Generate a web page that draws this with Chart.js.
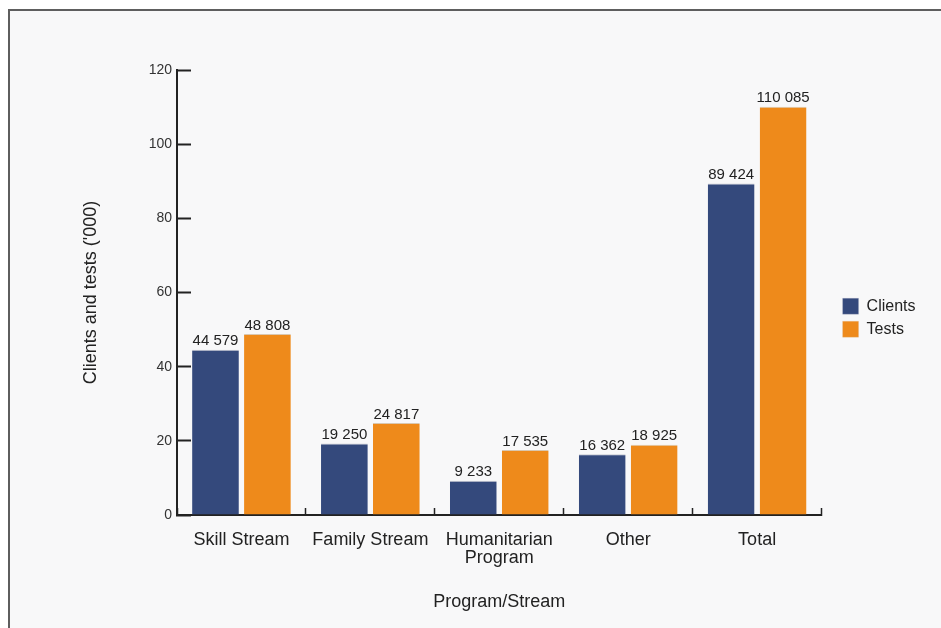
<!DOCTYPE html>
<html>
<head>
<meta charset="utf-8">
<script src="https://cdn.jsdelivr.net/npm/chart.js@4.4.1/dist/chart.umd.min.js"></script>
<style>
  html, body { margin: 0; padding: 0; background: #ffffff; }
  #wrap { position: relative; width: 941px; height: 628px; overflow: hidden; }
  #frame { position: absolute; left: 8px; top: 9px; width: 960px; height: 660px;
           border-left: 2px solid #5e5e5e; border-top: 2px solid #5e5e5e; background: #f8f8f9; }
  canvas { position: absolute; left: 0; top: 0; }
</style>
</head>
<body>
<div id="wrap">
  <div id="frame"></div>
  <canvas id="c" width="941" height="628"></canvas>
</div>
<script>
const categories = ['Skill Stream', 'Family Stream', ['Humanitarian', 'Program'], 'Other', 'Total'];
const clients = [44.579, 19.250, 9.233, 16.362, 89.424];
const tests = [48.808, 24.817, 17.535, 18.925, 110.085];
const yTicks = [0, 20, 40, 60, 80, 100, 120];

const FONT = "'Liberation Sans', Arial, Helvetica, sans-serif";

function fmt(v) {
  const n = Math.round(v * 1000);
  return String(n).replace(/\B(?=(\d{3})+(?!\d))/g, ' ');
}

const labelPlugin = {
  id: 'barLabels',
  afterDatasetsDraw(chart) {
    const ctx = chart.ctx;
    ctx.save();
    ctx.font = '15px ' + FONT;
    ctx.fillStyle = '#222';
    ctx.textAlign = 'center';
    ctx.textBaseline = 'bottom';
    chart.data.datasets.forEach((ds, di) => {
      const meta = chart.getDatasetMeta(di);
      meta.data.forEach((bar, i) => {
        ctx.fillText(fmt(ds.data[i]), bar.x, bar.y - 1);
      });
    });
    ctx.restore();
  }
};

new Chart(document.getElementById('c'), {
  type: 'bar',
  data: {
    labels: categories,
    datasets: [
      { label: 'Clients', data: clients, backgroundColor: '#34497c', borderColor: '#c5c8d2', borderWidth: { top: 1, left: 0, right: 0, bottom: 0 } },
      { label: 'Tests', data: tests, backgroundColor: '#ee8a1b', borderColor: '#d9c7b0', borderWidth: { top: 1, left: 0, right: 0, bottom: 0 } }
    ]
  },
  options: {
    responsive: false,
    animation: false,
    devicePixelRatio: 1,
    layout: { padding: { left: 80, right: 15.5, top: 70, bottom: 15 } },
    datasets: { bar: { categoryPercentage: 0.806, barPercentage: 0.9 } },
    plugins: {
      legend: {
        position: 'right',
        align: 'center',
        fullSize: false,
        title: { display: true, text: '', padding: { top: 36, bottom: 0 } },
        labels: { boxWidth: 16, boxHeight: 16, padding: 7, color: '#222', font: { family: FONT, size: 16 } }
      },
      tooltip: { enabled: false }
    },
    scales: {
      x: {
        offset: true,
        afterFit(s) { s.height = 98; },
        grid: { display: true, drawOnChartArea: false, drawTicks: true, tickLength: -7, tickColor: '#222', tickWidth: 1.5, offset: true },
        border: { display: true, color: '#222', width: 2 },
        ticks: { color: '#222', padding: 23, font: { family: FONT, size: 18, lineHeight: 1.0 }, maxRotation: 0, autoSkip: false },
        title: { display: true, text: 'Program/Stream', color: '#222', font: { family: FONT, size: 18 }, padding: { top: 10, bottom: 0 } }
      },
      y: {
        min: 0, max: 120,
        afterBuildTicks(scale) { scale.ticks = yTicks.map(v => ({ value: v })); },
        afterFit(s) { s.width = 97; },
        grid: { display: true, drawOnChartArea: false, drawTicks: true, tickLength: -14, tickColor: '#222', tickWidth: 2 },
        border: { display: true, color: '#222', width: 2 },
        ticks: { color: '#333', padding: 19, font: { family: FONT, size: 14 } },
        title: { display: true, text: "Clients and tests ('000)", color: '#222', font: { family: FONT, size: 18 }, padding: { top: 0, bottom: 20 } }
      },
      gap: {
        type: 'linear', axis: 'y', position: 'right', display: true,
        afterFit(s) { s.width = 14; },
        grid: { display: false }, border: { display: false }, ticks: { display: false }
      }
    }
  },
  plugins: [labelPlugin]
});
</script>
</body>
</html>
